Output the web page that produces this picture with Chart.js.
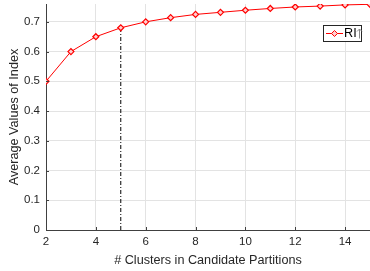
<!DOCTYPE html>
<html>
<head>
<meta charset="utf-8">
<script src="https://cdn.jsdelivr.net/npm/chart.js@4.4.0/dist/chart.umd.min.js"></script>
<style>
  html, body { margin: 0; padding: 0; background: #fff; }
  #wrap { width: 370px; height: 271px; }
</style>
</head>
<body>
<div id="wrap"><canvas id="chart" width="370" height="271"></canvas></div>
<script>
const clusters = [2, 3, 4, 5, 6, 7, 8, 9, 10, 11, 12, 13, 14, 15];
const riValues = [0.50, 0.60, 0.65, 0.68, 0.70, 0.714, 0.725, 0.732, 0.739, 0.745, 0.750, 0.753, 0.757, 0.759];
const xTicks = [2, 4, 6, 8, 10, 12, 14];
const yTicks = [0, 0.1, 0.2, 0.3, 0.4, 0.5, 0.6, 0.7];
const bestK = 5;
const bestRI = 0.68;

const ctx = document.getElementById('chart');
Chart.defaults.font.family = "'Liberation Sans', Arial, sans-serif";
Chart.defaults.font.size = 11.5;
Chart.defaults.color = '#262626';

// legend box drawn inside the plot, top right
const legendBox = {
  id: 'legendBox',
  afterDraw(chart) {
    const c = chart.ctx;
    const x0 = 323, y0 = 25, w = 39, h = 17;
    c.save();
    c.fillStyle = '#fff';
    c.fillRect(x0, y0, w, h);
    c.strokeStyle = '#262626';
    c.lineWidth = 1;
    c.strokeRect(x0 + 0.5, y0 + 0.5, w - 1, h - 1);
    const my = y0 + h / 2;
    c.strokeStyle = '#ff0000';
    c.beginPath();
    c.moveTo(x0 + 3, my);
    c.lineTo(x0 + 20, my);
    c.stroke();
    c.fillStyle = '#ffd0d0';
    c.beginPath();
    c.moveTo(x0 + 11.5, my - 3);
    c.lineTo(x0 + 14.5, my);
    c.lineTo(x0 + 11.5, my + 3);
    c.lineTo(x0 + 8.5, my);
    c.closePath();
    c.fill();
    c.stroke();
    c.font = "12.65px 'Liberation Sans', Arial, sans-serif";
    c.textBaseline = 'middle';
    c.fillStyle = '#000';
    const label = chart.data.datasets[0].label;
    c.fillText(label, x0 + 21, my + 0.5);
    const ax = Math.round(x0 + 21 + c.measureText(label).width + 2.5) + 0.5;
    c.strokeStyle = '#8a8a8a';
    c.beginPath();
    c.moveTo(ax, my - 4.5);
    c.lineTo(ax, my + 5);
    c.moveTo(ax - 2.5, my - 2);
    c.lineTo(ax, my - 4.5);
    c.lineTo(ax + 2.5, my - 2);
    c.stroke();
    c.restore();
  }
};

// short inward ticks along the axes
const innerTicks = {
  id: 'innerTicks',
  afterDatasetsDraw(chart) {
    const c = chart.ctx;
    const xs = chart.scales.x, ys = chart.scales.y;
    const a = chart.chartArea;
    c.save();
    c.strokeStyle = '#404040';
    c.lineWidth = 1;
    c.beginPath();
    xTicks.forEach(v => {
      const px = Math.round(xs.getPixelForValue(v)) + 0.5;
      c.moveTo(px, a.bottom);
      c.lineTo(px, a.bottom - 3);
    });
    yTicks.forEach(v => {
      const py = Math.round(ys.getPixelForValue(v)) + 0.5;
      c.moveTo(a.left, py);
      c.lineTo(a.left + 3, py);
    });
    c.stroke();
    c.restore();
  }
};

new Chart(ctx, {
  type: 'line',
  data: {
    datasets: [
      {
        label: 'RI',
        data: clusters.map((k, i) => ({ x: k, y: riValues[i] })),
        borderColor: '#ff0000',
        backgroundColor: '#ffd0d0',
        borderWidth: 1,
        pointStyle: 'rectRot',
        pointRadius: 3,
        pointBorderWidth: 1.2,
        pointBorderColor: '#ff0000',
        pointBackgroundColor: '#ffd0d0',
        tension: 0
      },
      {
        label: 'best',
        data: [{ x: bestK, y: 0 }, { x: bestK, y: bestRI }],
        borderColor: '#000',
        borderWidth: 1,
        borderDash: [4, 2, 1, 2],
        pointRadius: 0
      }
    ]
  },
  options: {
    responsive: false,
    animation: false,
    layout: { autoPadding: false, padding: { top: 4, right: 0, left: 0, bottom: 0 } },
    plugins: {
      legend: { display: false },
      tooltip: { enabled: false }
    },
    scales: {
      x: {
        type: 'linear',
        min: 2,
        max: 15,
        afterBuildTicks: s => { s.ticks = xTicks.map(v => ({ value: v })); },
        afterFit: s => { s.height = 41; s.paddingLeft = 0; s.paddingRight = 0; },
        grid: { color: '#e3e3e3', drawTicks: false },
        border: { color: '#404040', width: 1 },
        ticks: { padding: 5, maxRotation: 0, color: '#262626' },
        title: {
          display: true,
          text: '# Clusters in Candidate Partitions',
          color: '#262626',
          font: { size: 12.65 },
          padding: { top: 0, bottom: 3 }
        }
      },
      y: {
        min: 0,
        max: 0.76,
        afterBuildTicks: s => { s.ticks = yTicks.map(v => ({ value: v })); },
        afterFit: s => { s.width = 46; s.paddingTop = 0; s.paddingBottom = 0; },
        grid: { color: '#e3e3e3', drawTicks: false },
        border: { color: '#404040', width: 1 },
        ticks: { padding: 6, color: '#262626', callback: v => String(Math.round(v * 10) / 10) },
        title: {
          display: true,
          text: 'Average Values of Index',
          color: '#262626',
          font: { size: 12.65 },
          padding: { top: 7, bottom: 0 }
        }
      }
    }
  },
  plugins: [innerTicks, legendBox]
});
</script>
</body>
</html>
